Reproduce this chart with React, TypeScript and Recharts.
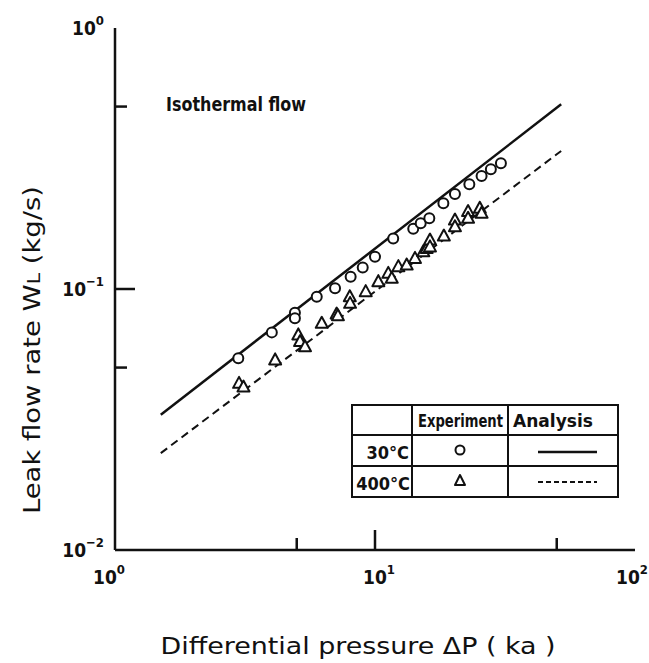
import React from 'react';
import { ComposedChart, Scatter, Line, XAxis, YAxis } from 'recharts';

const FONT = "'Liberation Sans Narrow', 'DejaVu Sans Condensed', 'Liberation Sans', sans-serif";

// experiment, 30°C : differential pressure (kPa) / leak flow (kg/s)
const dp30 = [2.98, 4.01, 4.92, 4.92, 5.97, 7.02, 8.06, 8.97, 10.0, 11.75, 14.03, 14.99, 16.18, 18.32, 20.3, 23.06, 25.7, 27.9, 30.5];
const wl30 = [0.0543, 0.0682, 0.0811, 0.0772, 0.0934, 0.1006, 0.1114, 0.121, 0.133, 0.156, 0.17, 0.1786, 0.1868, 0.213, 0.231, 0.252, 0.271, 0.2875, 0.303];

// experiment, 400°C
const dp400 = [3.0, 3.12, 4.13, 5.07, 5.15, 5.38, 6.24, 7.12, 7.2, 8.0, 8.02, 9.21, 10.3, 11.25, 11.6, 12.3, 13.24, 14.25, 15.34, 15.8, 16.27, 16.27, 18.4, 20.3, 20.3, 22.8, 22.8, 25.3, 25.7];
const wl400 = [0.0435, 0.0421, 0.0535, 0.0667, 0.0629, 0.0601, 0.0739, 0.0802, 0.079, 0.0934, 0.0881, 0.0977, 0.1067, 0.1148, 0.11, 0.1218, 0.1236, 0.131, 0.139, 0.143, 0.154, 0.145, 0.1596, 0.1838, 0.1733, 0.198, 0.1866, 0.204, 0.195];

// analysis (straight on log-log, end points)
const dpCalc = [1.5, 52];
const wlCalc30 = [0.033, 0.51];
const wlCalc400 = [0.0235, 0.338];

const xTicks = [1, 5, 10, 50, 100];
const yTicks = [0.01, 0.05, 0.1, 0.5, 1];
const xTicksTop = [5, 10, 50];
const yTicksRight = [0.05, 0.1, 0.5];

const pts = (xs: number[], ys: number[]) => xs.map((p, i) => ({ p, w: ys[i] }));
const exp30 = pts(dp30, wl30);
const exp400 = pts(dp400, wl400);
const calc30 = pts(dpCalc, wlCalc30);
const calc400 = pts(dpCalc, wlCalc400);

const W = 649;
const H = 663;
const INK = '#111';

const expOf = (v: number) => Math.round(Math.log10(v));
const isDecade = (v: number) => Math.abs(Math.log10(v) - expOf(v)) < 1e-6;
const isMajor = (v: number) => Math.abs(v - 10) < 1e-9 || Math.abs(v - 0.1) < 1e-9;
const supText = (e: number) => (e < 0 ? '\u2212' + Math.abs(e) : String(e));

// horizontal nudge of the x decade labels (10^0, 10^1, 10^2)
const xLabelShift: Record<number, number> = { 0: -6, 1: 4, 2: -3 };

function Pow({ x, y, e, anchor }: { x: number; y: number; e: number; anchor: 'middle' | 'end' }) {
  return (
    <text x={x} y={y} textAnchor={anchor} fontFamily={FONT} fontWeight="bold" fill={INK}>
      <tspan fontSize={19}>10</tspan>
      <tspan fontSize={13} dy={-10}>{supText(e)}</tspan>
    </text>
  );
}

function BottomTick(props: any) {
  const { x, y, payload } = props;
  const v = payload.value;
  const inner = v > 1 && v < 100;
  return (
    <g>
      {inner && <line x1={x} y1={y} x2={x} y2={y - (isMajor(v) ? 20 : 12)} stroke={INK} strokeWidth={2.5} />}
      {isDecade(v) && <Pow x={x + (xLabelShift[expOf(v)] ?? 0)} y={y + 34} e={expOf(v)} anchor="middle" />}
    </g>
  );
}

function TopTick(props: any) {
  const { x, y, payload } = props;
  const v = payload.value;
  return <line x1={x} y1={y} x2={x} y2={y + (isMajor(v) ? 20 : 12)} stroke={INK} strokeWidth={2.5} />;
}

function LeftTick(props: any) {
  const { x, y, payload } = props;
  const v = payload.value;
  const inner = v > 0.01 && v < 1;
  return (
    <g>
      {inner && <line x1={x} y1={y} x2={x + (isMajor(v) ? 20 : 12)} y2={y} stroke={INK} strokeWidth={2.5} />}
      {isDecade(v) && <Pow x={x - 11} y={y + 7} e={expOf(v)} anchor="end" />}
    </g>
  );
}

function RightTick(props: any) {
  const { x, y, payload } = props;
  const v = payload.value;
  return <line x1={x} y1={y} x2={x - (isMajor(v) ? 20 : 12)} y2={y} stroke={INK} strokeWidth={2.5} />;
}

const Circle = (p: any) => <circle cx={p.cx} cy={p.cy} r={5} fill="#fff" stroke={INK} strokeWidth={2} />;
const Tri = (p: any) => (
  <polygon
    points={`${p.cx},${p.cy - 6.5} ${p.cx - 6},${p.cy + 4.5} ${p.cx + 6},${p.cy + 4.5}`}
    fill="#fff"
    stroke={INK}
    strokeWidth={2}
    strokeLinejoin="round"
  />
);

const axisLine = { stroke: INK, strokeWidth: 2.5 };

function KeyTable() {
  const txt = { fontFamily: FONT, fontWeight: 'bold' as const, fill: INK };
  return (
    <svg width={W} height={H} style={{ position: 'absolute', left: 0, top: 0, pointerEvents: 'none' }}>
      <text x={166} y={111} fontSize={20} textLength={140} lengthAdjust="spacingAndGlyphs" {...txt}>
        Isothermal flow
      </text>
      <g stroke={INK} strokeWidth={2} fill="none">
        <rect x={352} y={405} width={266} height={92} fill="#fff" />
        <line x1={412} y1={405} x2={412} y2={497} />
        <line x1={508} y1={405} x2={508} y2={497} />
        <line x1={352} y1={435} x2={618} y2={435} />
        <line x1={352} y1={466} x2={618} y2={466} />
      </g>
      <text x={418} y={427} fontSize={17} textLength={85} lengthAdjust="spacingAndGlyphs" {...txt}>Experiment</text>
      <text x={513} y={427} fontSize={17} textLength={80} lengthAdjust="spacingAndGlyphs" {...txt}>Analysis</text>
      <text x={409} y={459} fontSize={18} textAnchor="end" {...txt}>30°C</text>
      <text x={410} y={490} fontSize={18} textAnchor="end" {...txt}>400°C</text>
      <circle cx={460} cy={450} r={4.5} fill="#fff" stroke={INK} strokeWidth={2} />
      <polygon points="460,475 455,485 465,485" fill="#fff" stroke={INK} strokeWidth={2} strokeLinejoin="round" />
      <line x1={538} y1={452} x2={597} y2={452} stroke={INK} strokeWidth={2.5} />
      <line x1={538} y1={482} x2={597} y2={482} stroke={INK} strokeWidth={2} strokeDasharray="5 3" />
      <text
        x={358}
        y={654}
        fontSize={23}
        textAnchor="middle"
        textLength={395}
        lengthAdjust="spacingAndGlyphs"
        fontFamily={FONT}
        fill={INK}
      >
        Differential pressure ΔP ( ka )
      </text>
      <text
        x={0}
        y={0}
        fontSize={23}
        textAnchor="middle"
        textLength={328}
        lengthAdjust="spacingAndGlyphs"
        fontFamily={FONT}
        fill={INK}
        transform="translate(40 350) rotate(-90)"
      >
        Leak flow rate W<tspan fontSize={17}>L</tspan> (kg/s)
      </text>
    </svg>
  );
}

export default function App() {
  return (
    <div style={{ position: 'absolute', left: 0, top: 0, width: W, height: H, background: '#fff' }}>
      <ComposedChart width={W} height={H} margin={{ top: 28, right: 14, bottom: 73, left: 55 }}>
        <XAxis
          xAxisId="b"
          dataKey="p"
          type="number"
          scale="log"
          domain={[1, 100]}
          allowDataOverflow
          ticks={xTicks}
          interval={0}
          tickSize={0}
          tickMargin={0}
          tickLine={false}
          axisLine={axisLine}
          height={40}
          tick={<BottomTick />}
        />
        <XAxis
          xAxisId="t"
          orientation="top"
          type="number"
          scale="log"
          domain={[1, 100]}
          allowDataOverflow
          ticks={xTicksTop}
          interval={0}
          tickSize={0}
          tickMargin={0}
          tickLine={false}
          axisLine={axisLine}
          height={0}
          tick={<TopTick />}
        />
        <YAxis
          yAxisId="l"
          dataKey="w"
          type="number"
          scale="log"
          domain={[0.01, 1]}
          allowDataOverflow
          ticks={yTicks}
          interval={0}
          tickSize={0}
          tickMargin={0}
          tickLine={false}
          axisLine={axisLine}
          width={60}
          tick={<LeftTick />}
        />
        <YAxis
          yAxisId="r"
          orientation="right"
          type="number"
          scale="log"
          domain={[0.01, 1]}
          allowDataOverflow
          ticks={yTicksRight}
          interval={0}
          tickSize={0}
          tickMargin={0}
          tickLine={false}
          axisLine={axisLine}
          width={0}
          tick={<RightTick />}
        />
        <Line
          xAxisId="b"
          yAxisId="l"
          data={calc30}
          dataKey="w"
          type="linear"
          stroke={INK}
          strokeWidth={2.5}
          dot={false}
          isAnimationActive={false}
        />
        <Line
          xAxisId="b"
          yAxisId="l"
          data={calc400}
          dataKey="w"
          type="linear"
          stroke={INK}
          strokeWidth={2}
          strokeDasharray="8 5"
          dot={false}
          isAnimationActive={false}
        />
        <Scatter xAxisId="b" yAxisId="l" data={exp30} dataKey="w" shape={Circle} isAnimationActive={false} />
        <Scatter xAxisId="b" yAxisId="l" data={exp400} dataKey="w" shape={Tri} isAnimationActive={false} />
      </ComposedChart>
      <KeyTable />
    </div>
  );
}
